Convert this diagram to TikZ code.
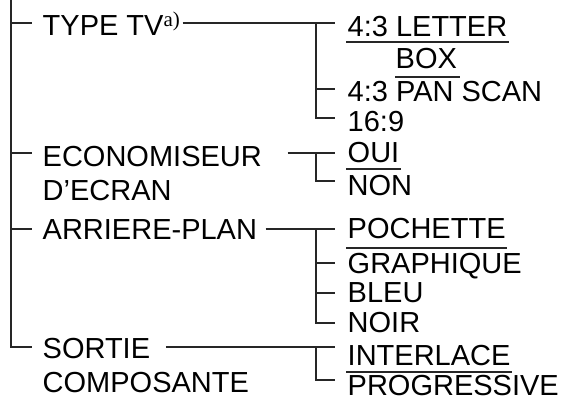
\documentclass[tikz,border=0pt]{standalone}
\usepackage{fontspec}
\setmainfont{Liberation Sans}
\newfontfamily\serif{Liberation Serif}
\usetikzlibrary{calc}
\tikzset{
	lbl/.style={anchor=base west, inner sep=0pt, font=\fontsize{29}{34}\selectfont},
	rule/.style={line width=1.4pt, draw=black!85}
}
\begin{document}
\begin{tikzpicture}[x=1pt,y=-1pt,line width=1.4pt,draw=black!85]
	\useasboundingbox (0,0) rectangle (565,407);

	% menu entries
	\node[lbl] (tv) at (42,35) {TYPE TV\raisebox{9pt}{\fontsize{21}{21}\serif a)}};
	\node[lbl] (eco) at (42,166) {ECONOMISEUR};
	\node[lbl] (ecran) at (42,200) {D’ECRAN};
	\node[lbl] (plan) at (42,239) {ARRIERE-PLAN};
	\node[lbl] (sortie) at (42,358) {SORTIE};
	\node[lbl] (compo) at (42,392) {COMPOSANTE};

	% choices
	\node[lbl] (letter) at (347,36) {4:3 LETTER};
	\node[lbl] (box) at (395,68) {BOX};
	\node[lbl] (pan) at (347,101) {4:3 PAN SCAN};
	\node[lbl] (nine) at (347,131) {16:9};
	\node[lbl] (oui) at (347,162) {OUI};
	\node[lbl] (non) at (347,195) {NON};
	\node[lbl] (poch) at (347,238) {POCHETTE};
	\node[lbl] (graph) at (347,273) {GRAPHIQUE};
	\node[lbl] (bleu) at (347,302) {BLEU};
	\node[lbl] (noir) at (347,332) {NOIR};
	\node[lbl] (inter) at (347,365) {INTERLACE};
	\node[lbl] (prog) at (347,395) {PROGRESSIVE};

	% tick ends
	\coordinate (root) at (11,0);
	\coordinate (tvT) at (32,23);
	\coordinate (ecoT) at (32,153);
	\coordinate (planT) at (32,229);
	\coordinate (sortieT) at (32,347);
	\coordinate (letterT) at (335,23);
	\coordinate (panT) at (335,89);
	\coordinate (nineT) at (335,118);
	\coordinate (ouiT) at (335,153);
	\coordinate (nonT) at (335,181);
	\coordinate (pochT) at (335,229);
	\coordinate (graphT) at (335,263);
	\coordinate (bleuT) at (335,293);
	\coordinate (noirT) at (335,323);
	\coordinate (interT) at (335,347);
	\coordinate (progT) at (335,380);

	% main line
	\draw (root) |- (sortieT);
	\foreach \t in {tvT,ecoT,planT}
		\draw (root |- \t) -- (\t);

	% TYPE TV
	\draw ($(tv.base east |- letterT)+(2,0)$) -- (letterT);
	\draw (316,0 |- letterT) |- (nineT);
	\draw (316,0 |- panT) -- (panT);

	% ECONOMISEUR
	\draw ($(eco.base east |- ouiT)+(25,0)$) -- (ouiT);
	\draw (316,0 |- ouiT) |- (nonT);

	% ARRIERE-PLAN
	\draw ($(plan.base east |- pochT)+(8,0)$) -- (pochT);
	\draw (316,0 |- pochT) |- (noirT);
	\foreach \t in {graphT,bleuT}
		\draw (316,0 |- \t) -- (\t);

	% SORTIE
	\draw ($(sortie.base east |- interT)+(15,0)$) -- (interT);
	\draw (316,0 |- interT) |- (progT);

	% rules between choices
	\draw ([shift={(-1,6)}]letter.base west) -- ([shift={(1,6)}]letter.base east);
	\draw ([yshift=-9pt]box.base west) -- ([shift={(2,9)}]box.base east);
	\draw ([shift={(-1,7)}]oui.base west) -- ([shift={(1,7)}]oui.base east);
	\draw ([shift={(-1,10)}]poch.base west) -- ([shift={(1,10)}]poch.base east);
	\draw ([shift={(-1,7)}]inter.base west) -- ([shift={(1,7)}]inter.base east);

\end{tikzpicture}
\end{document}
